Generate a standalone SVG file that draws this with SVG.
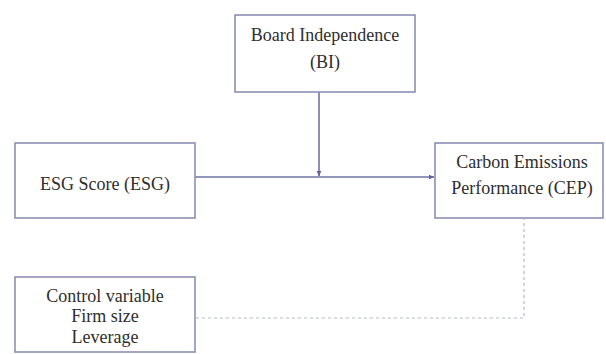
<svg xmlns="http://www.w3.org/2000/svg" width="606" height="354" viewBox="0 0 606 354">
<defs>
<style>
.box{fill:#ffffff;stroke:#8c90b4;stroke-width:1.6}
.t{font-family:"Liberation Serif","Times New Roman",serif;font-size:18px;fill:#2e2e2e;text-anchor:middle}
.ln{fill:none;stroke:#6f74a6;stroke-width:1.6}
.dl{fill:none;stroke:#b4b8cc;stroke-width:1.2;stroke-dasharray:3 3}
</style>
<marker id="ah" viewBox="0 0 6 6" refX="5.5" refY="3" markerWidth="6" markerHeight="6" orient="auto" markerUnits="userSpaceOnUse">
<path d="M0,0.5 L6,3 L0,5.5 Z" fill="#5f6498"/>
</marker>
</defs>
<rect width="606" height="354" fill="#ffffff"/>
<g id="connectors">
<line class="ln" x1="195" y1="177" x2="434" y2="177" marker-end="url(#ah)"/>
<line class="ln" x1="319" y1="92" x2="319" y2="176" marker-end="url(#ah)"/>
<polyline class="dl" points="196,318 524,318 524,219"/>
</g>
<g id="bi">
<rect class="box" x="235" y="15" width="180" height="77"/>
<text class="t" x="325" y="41">Board Independence</text>
<text class="t" x="325" y="68">(BI)</text>
</g>
<g id="esg">
<rect class="box" x="15" y="143" width="180" height="75"/>
<text class="t" x="105" y="190">ESG Score (ESG)</text>
</g>
<g id="cep">
<rect class="box" x="435" y="143" width="168" height="75"/>
<text class="t" x="522" y="168">Carbon Emissions</text>
<text class="t" x="522" y="194">Performance (CEP)</text>
</g>
<g id="control">
<rect class="box" x="15" y="277" width="180" height="75"/>
<text class="t" x="105" y="302">Control variable</text>
<text class="t" x="105" y="322">Firm size</text>
<text class="t" x="105" y="343">Leverage</text>
</g>
</svg>
